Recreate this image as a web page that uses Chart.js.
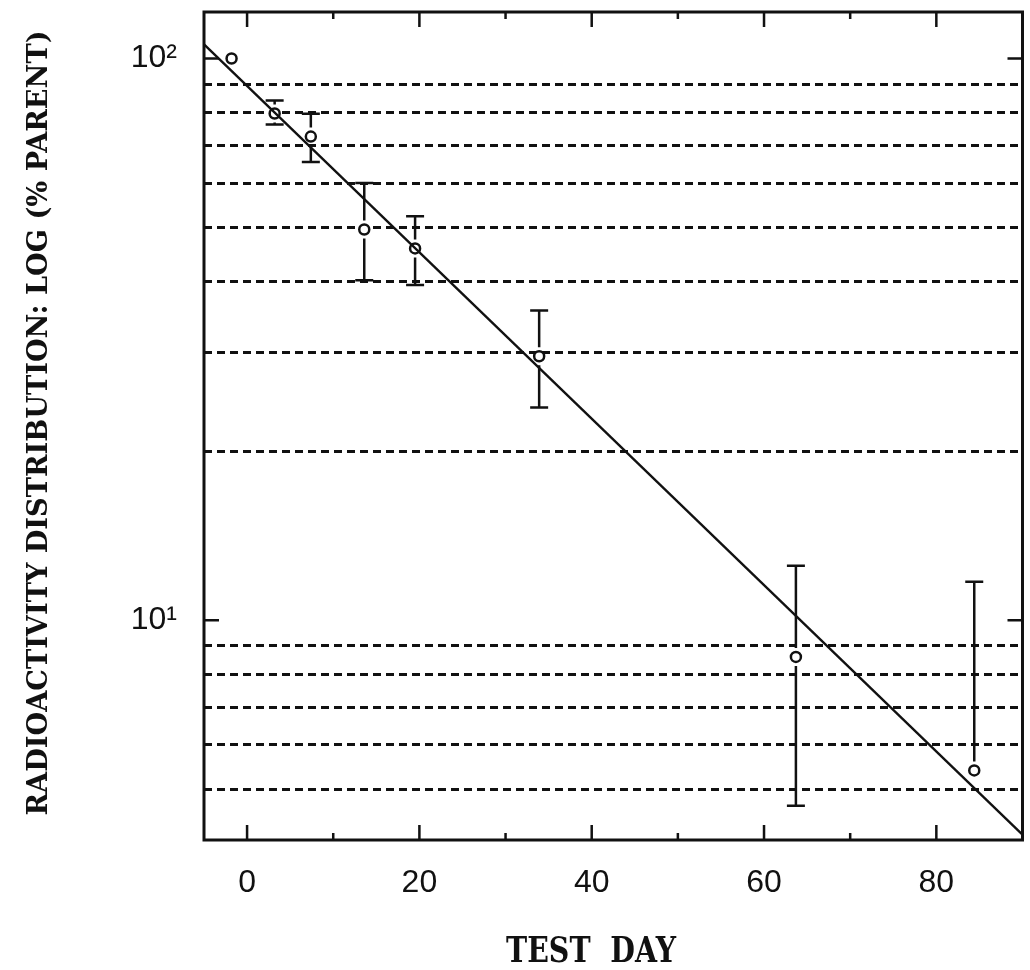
<!DOCTYPE html>
<html>
<head>
<meta charset="utf-8">
<script src="https://cdn.jsdelivr.net/npm/chart.js@4"></script>
<style>
  body { margin: 0; background: #fff; }
  canvas { display: block; }
</style>
</head>
<body>
<canvas id="myChart" width="1030" height="970"></canvas>
<script>
// measured points (test day, % parent) with error bar ends
const days = [-1.8, 3.2, 7.4, 13.6, 19.5, 33.9, 63.7, 84.4];
const values = [100, 79.8, 72.6, 49.6, 45.9, 29.5, 8.6, 5.4];
const errHigh = [null, 84.2, 79.7, 60.0, 52.4, 35.6, 12.5, 11.7];
const errLow = [null, 76.3, 65.4, 40.3, 39.5, 23.9, 4.67, null];

// fitted decay line, read at the two plot edges
const fitDays = [-5, 90];
const fitValues = [106, 4.15];

const xTicks = [0, 10, 20, 30, 40, 50, 60, 70, 80];
const yTicks = [5, 6, 7, 8, 9, 10, 20, 30, 40, 50, 60, 70, 80, 90, 100];
const yMajor = [10, 100];

const ink = '#111';

const framePlugin = {
    id: 'frame',
    beforeDatasetsDraw(chart) {
        const { ctx, scales: { x, y } } = chart;
        ctx.save();
        ctx.strokeStyle = ink;
        ctx.lineWidth = 2.5;
        days.forEach((d, i) => {
            const px = x.getPixelForValue(d);
            const py = y.getPixelForValue(values[i]);
            const ends = [[errHigh[i], -9], [errLow[i], 9]];
            ends.forEach(([v, gap]) => {
                if (v == null) return;
                const pe = y.getPixelForValue(v);
                ctx.beginPath();
                ctx.moveTo(px, py + gap);
                ctx.lineTo(px, pe);
                ctx.moveTo(px - 9, pe);
                ctx.lineTo(px + 9, pe);
                ctx.stroke();
            });
        });
        ctx.restore();
    },
    afterDatasetsDraw(chart) {
        const { ctx, chartArea: a, scales: { x, y } } = chart;
        ctx.save();
        ctx.strokeStyle = ink;
        ctx.lineWidth = 3;
        ctx.strokeRect(a.left, a.top, a.right - a.left, a.bottom - a.top);
        ctx.lineWidth = 2.5;
        ctx.beginPath();
        xTicks.forEach(v => {
            const px = x.getPixelForValue(v);
            const len = v % 20 === 0 ? 15 : 7;
            ctx.moveTo(px, a.bottom);
            ctx.lineTo(px, a.bottom - len);
            ctx.moveTo(px, a.top);
            ctx.lineTo(px, a.top + len);
        });
        yMajor.forEach(v => {
            const py = y.getPixelForValue(v);
            ctx.moveTo(a.left, py);
            ctx.lineTo(a.left + 15, py);
            ctx.moveTo(a.right, py);
            ctx.lineTo(a.right - 15, py);
        });
        ctx.stroke();
        ctx.restore();
    },
    afterDraw(chart) {
        const ctx = chart.ctx;
        // typewriter-ish serif title, squeezed to the length seen in the scan
        const drawText = (text, size, len, cx, cy, rot) => {
            ctx.save();
            ctx.fillStyle = ink;
            ctx.font = 'bold ' + size + 'px "DejaVu Serif", serif';
            ctx.textAlign = 'center';
            ctx.textBaseline = 'middle';
            const w = ctx.measureText(text).width;
            ctx.translate(cx, cy);
            ctx.rotate(rot);
            ctx.scale(len / w, 1);
            ctx.fillText(text, 0, 0);
            ctx.restore();
        };
        drawText('TEST  DAY', 35, 170, 591, 953, 0);
        drawText('RADIOACTIVITY DISTRIBUTION: LOG (% PARENT)', 27, 785, 40, 423, -Math.PI / 2);
    }
};

const ctx = document.getElementById('myChart').getContext('2d');

new Chart(ctx, {
    type: 'scatter',
    data: {
        datasets: [
            {
                data: fitDays.map((d, i) => ({ x: d, y: fitValues[i] })),
                showLine: true,
                borderColor: ink,
                borderWidth: 2.5,
                pointRadius: 0
            },
            {
                data: days.map((d, i) => ({ x: d, y: values[i] })),
                pointRadius: 5,
                pointBorderWidth: 2.5,
                pointBorderColor: ink,
                pointBackgroundColor: '#fff'
            }
        ]
    },
    options: {
        responsive: false,
        animation: false,
        layout: { padding: { top: 12, right: 4, left: 0, bottom: 0 } },
        plugins: {
            legend: { display: false },
            tooltip: { enabled: false }
        },
        scales: {
            x: {
                type: 'linear',
                min: -5,
                max: 90,
                afterBuildTicks: s => { s.ticks = xTicks.map(v => ({ value: v })); },
                afterFit: s => {
                    s.height = 130;
                    s.paddingLeft = 0;
                    s.paddingRight = 0;
                },
                grid: { display: false },
                border: { display: false },
                ticks: {
                    callback: v => (v % 20 === 0 ? String(v) : ''),
                    font: { family: 'Liberation Sans', size: 32 },
                    color: ink,
                    padding: 16,
                    maxRotation: 0,
                    autoSkip: false
                }
            },
            y: {
                type: 'logarithmic',
                min: 4.06,
                max: 121,
                afterBuildTicks: s => {
                    s.ticks = yTicks.map(v => ({ value: v, major: yMajor.includes(v) }));
                },
                afterFit: s => {
                    s.width = 204;
                    s.paddingTop = 0;
                    s.paddingBottom = 0;
                },
                grid: {
                    color: c => (c.tick && c.tick.major ? 'rgba(0,0,0,0)' : ink),
                    lineWidth: 3,
                    drawTicks: false
                },
                border: { display: false, dash: [8, 5] },
                ticks: {
                    callback: v => (v === 100 ? '10²' : v === 10 ? '10¹' : ''),
                    font: { family: 'Liberation Sans', size: 32 },
                    color: ink,
                    padding: 27,
                    autoSkip: false
                }
            }
        }
    },
    plugins: [framePlugin]
});
</script>
</body>
</html>
